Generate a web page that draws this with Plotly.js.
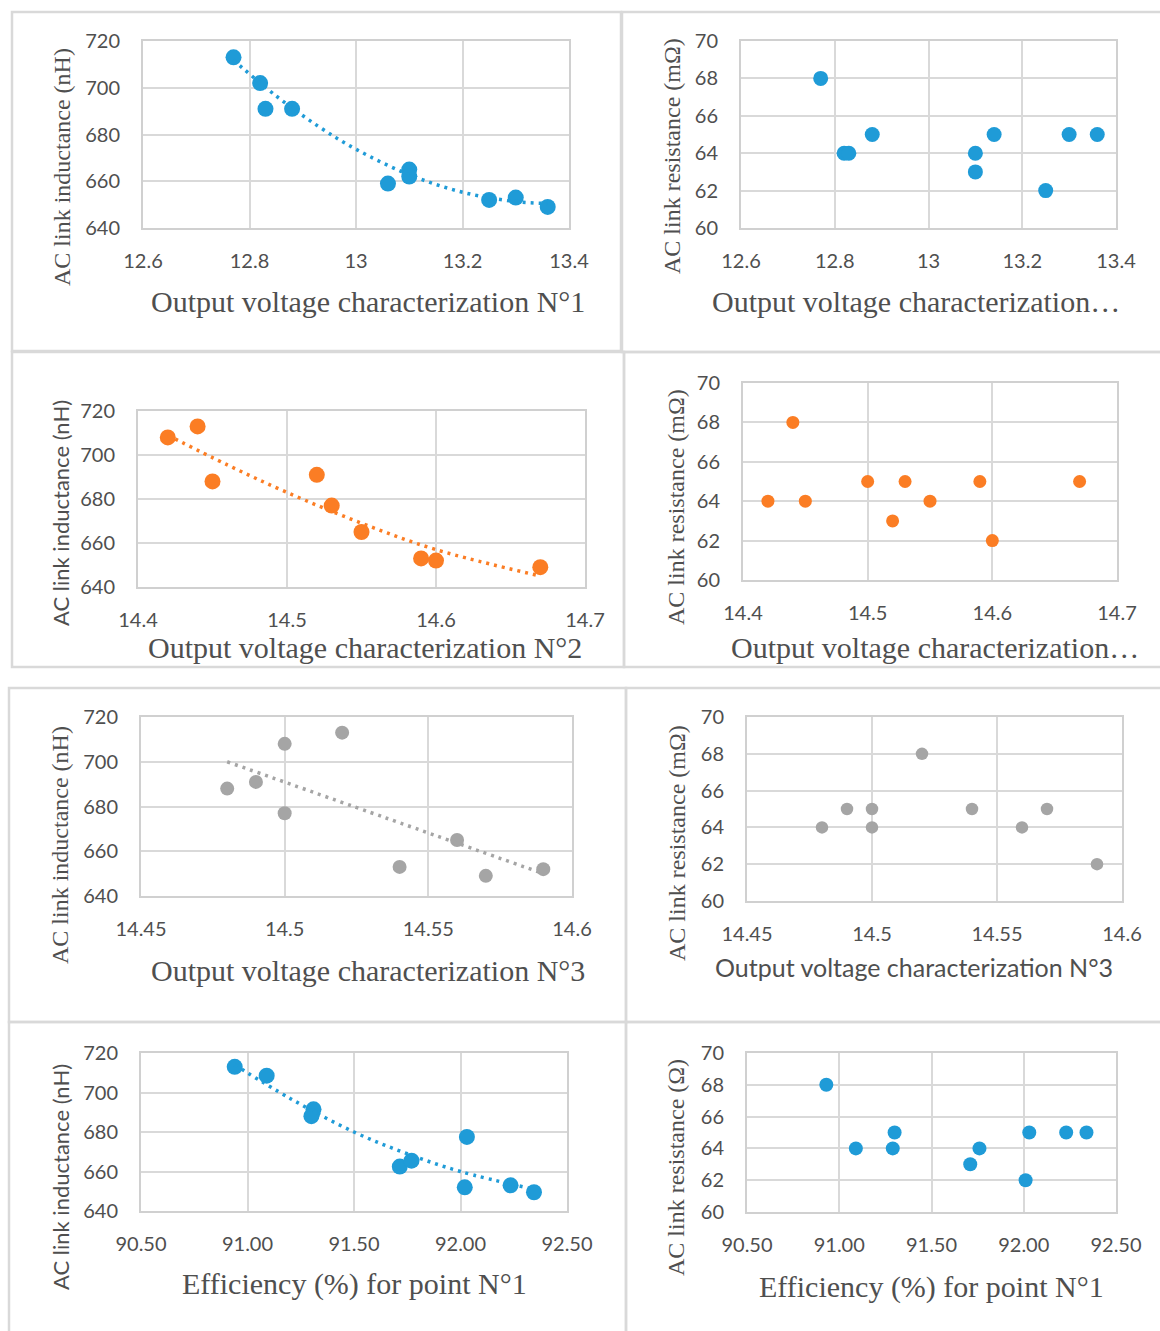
<!DOCTYPE html>
<html><head><meta charset="utf-8">
<script src="https://cdn.plot.ly/plotly-3.0.1.min.js"></script>
<style>html,body{margin:0;padding:0;background:#fff}#chart{width:1160px;height:1331px}</style>
</head><body><div id="chart"></div>
<script>
// ---------- data ----------
const volt1 = [12.77, 12.82, 12.83, 12.88, 13.06, 13.10, 13.10, 13.25, 13.30, 13.36];
const induct1 = [713, 702, 691, 691, 659, 665, 662, 652, 653, 649];
const trend1X = [12.77, 12.85, 12.93, 13.0, 13.1, 13.2, 13.3, 13.36];
const trend1Y = [711.8, 696.5, 683.4, 673.7, 662.8, 655.3, 651.3, 650.5];
const volt1R = [12.77, 12.82, 12.83, 12.88, 13.10, 13.10, 13.14, 13.25, 13.30, 13.36];
const resist1 = [68, 64, 64, 65, 64, 63, 65, 62, 65, 65];

const volt2 = [14.42, 14.44, 14.45, 14.52, 14.53, 14.55, 14.59, 14.60, 14.67];
const induct2 = [708, 713, 688, 691, 677, 665, 653, 652, 649];
const trend2X = [14.42, 14.46, 14.5, 14.55, 14.6, 14.67];
const trend2Y = [709, 695.5, 683, 669, 657, 645];
const volt2R = [14.42, 14.44, 14.45, 14.50, 14.52, 14.53, 14.55, 14.59, 14.60, 14.67];
const resist2 = [64, 68, 64, 65, 63, 65, 64, 65, 62, 65];

const volt3 = [14.48, 14.49, 14.50, 14.50, 14.52, 14.54, 14.56, 14.57, 14.59];
const induct3 = [688, 691, 708, 677, 713, 653, 665, 649, 652];
const trend3X = [14.48, 14.535, 14.59];
const trend3Y = [700, 675, 650];
const volt3R = [14.48, 14.49, 14.50, 14.50, 14.52, 14.54, 14.56, 14.57, 14.59];
const resist3 = [64, 65, 65, 64, 68, 65, 64, 65, 62];

const eff1 = [90.94, 91.09, 91.31, 91.30, 92.03, 91.715, 91.77, 92.02, 92.235, 92.345];
const induct4 = [713, 708.5, 691.5, 688, 677.5, 662.5, 665.5, 652, 653, 649.5];
const trend4X = [90.94, 91.2, 91.5, 91.75, 92.0, 92.345];
const trend4Y = [714, 697, 680, 669, 660, 651];
const eff1R = [90.93, 91.09, 91.29, 91.30, 91.71, 91.76, 92.01, 92.03, 92.23, 92.34];
const resist4 = [68, 64, 64, 65, 63, 64, 62, 65, 65, 65];

const titleL = 'AC link inductance (nH)';
const titleR = 'AC link resistance (mΩ)';
const titleR2 = 'AC link resistance (Ω)';
const titleV1 = 'Output voltage characterization N°1';
const titleV2 = 'Output voltage characterization N°2';
const titleV3 = 'Output voltage characterization N°3';
const titleVcut = 'Output voltage characterization…';
const titleE = 'Efficiency (%) for point N°1';

// ---------- styling ----------
const W = 1160, H = 1331;
const px = x => x / W, py = y => 1 - y / H;
const BLUE = '#1f9bd7', ORANGE = '#fb7d24', GRAY = '#a5a5a5';
const SERIF = '"Liberation Serif", "DejaVu Serif", serif';
const SANS = 'Lato, "Open Sans", sans-serif';
const TXT = '#4f4f4f';

const panels = [
  {x: volt1, y: induct1, tx: trend1X, ty: trend1Y, c: BLUE, ms: 16, xr: [12.6, 13.4], dx: 0.2, yr: [640, 720], dy: 20,
   plot: [143, 569, 41, 228], xt: titleV1, xtp: [368, 301], xf: SERIF, yt: titleL, ytp: [62, 167], yf: SERIF, box: [12, 621, 12, 351]},
  {x: volt1R, y: resist1, c: BLUE, ms: 15, xr: [12.6, 13.4], dx: 0.2, yr: [60, 70], dy: 2,
   plot: [741, 1116, 41, 228], xt: titleVcut, xtp: [916, 301], xf: SERIF, yt: titleR, ytp: [672, 156], yf: SERIF, box: [622, 1162, 12, 352]},
  {x: volt2, y: induct2, tx: trend2X, ty: trend2Y, c: ORANGE, ms: 16, xr: [14.4, 14.7], dx: 0.1, yr: [640, 720], dy: 20,
   plot: [138, 585, 411, 587], xt: titleV2, xtp: [365, 647], xf: SERIF, yt: titleL, ytp: [60, 513], yf: SANS, box: [12, 624, 352, 667]},
  {x: volt2R, y: resist2, c: ORANGE, ms: 13, xr: [14.4, 14.7], dx: 0.1, yr: [60, 70], dy: 2,
   plot: [743, 1117, 383, 580], xt: titleVcut, xtp: [935, 647], xf: SERIF, yt: titleR, ytp: [676, 507], yf: SERIF, box: [624, 1162, 352, 667]},
  {x: volt3, y: induct3, tx: trend3X, ty: trend3Y, c: GRAY, ms: 14, xr: [14.45, 14.6], dx: 0.05, yr: [640, 720], dy: 20,
   plot: [141, 572, 717, 896], xt: titleV3, xtp: [368, 970], xf: SERIF, yt: titleL, ytp: [60, 845], yf: SERIF, box: [9, 626, 688, 1022]},
  {x: volt3R, y: resist3, c: GRAY, ms: 12.5, xr: [14.45, 14.6], dx: 0.05, yr: [60, 70], dy: 2,
   plot: [747, 1122, 717, 901], xt: titleV3, xtp: [914, 967], xf: SANS, yt: titleR, ytp: [677, 843], yf: SERIF, box: [626, 1162, 688, 1022]},
  {x: eff1, y: induct4, tx: trend4X, ty: trend4Y, c: BLUE, ms: 16, xr: [90.5, 92.5], dx: 0.5, fmt: '.2f', yr: [640, 720], dy: 20,
   plot: [141, 567, 1053, 1211], xt: titleE, xtp: [354, 1284], xf: SERIF, yt: titleL, ytp: [60, 1177], yf: SANS, box: [9, 626, 1022, 1340]},
  {x: eff1R, y: resist4, c: BLUE, ms: 14, xr: [90.5, 92.5], dx: 0.5, fmt: '.2f', yr: [60, 70], dy: 2,
   plot: [747, 1116, 1053, 1212], xt: titleE, xtp: [931, 1287], xf: SERIF, yt: titleR2, ytp: [676, 1168], yf: SERIF, box: [626, 1162, 1022, 1340]}
];

const data = [];
const layout = {
  width: W, height: H, margin: {l: 0, r: 0, t: 0, b: 0},
  paper_bgcolor: '#ffffff', plot_bgcolor: '#ffffff', showlegend: false,
  annotations: [], shapes: []
};

panels.forEach((p, i) => {
  const n = i + 1;
  const xa = 'x' + (n === 1 ? '' : n), ya = 'y' + (n === 1 ? '' : n);
  const xk = 'xaxis' + (n === 1 ? '' : n), yk = 'yaxis' + (n === 1 ? '' : n);
  data.push({type: 'scatter', mode: 'markers', x: p.x, y: p.y, xaxis: xa, yaxis: ya,
    marker: {color: p.c, size: p.ms}, cliponaxis: false, hoverinfo: 'x+y'});
  if (p.tx) {
    data.push({type: 'scatter', mode: 'lines', x: p.tx, y: p.ty, xaxis: xa, yaxis: ya,
      line: {color: p.c, width: 3.5, dash: '3px,5px', shape: 'spline'}, hoverinfo: 'skip'});
  }
  const common = {showgrid: true, gridcolor: '#d9d9d9', gridwidth: 2, zeroline: false,
    showline: true, linecolor: '#d0d0d0', linewidth: 2, mirror: true, ticks: '',
    tickfont: {family: SANS, size: 20, color: TXT}};
  layout[xk] = Object.assign({}, common, {domain: [px(p.plot[0]), px(p.plot[1])], range: p.xr, dtick: p.dx,
    tick0: p.xr[0], anchor: ya, ticklabelstandoff: 14, tickformat: p.fmt || ''});
  layout[yk] = Object.assign({}, common, {domain: [py(p.plot[3]), py(p.plot[2])], range: p.yr, dtick: p.dy,
    tick0: p.yr[0], anchor: xa, ticklabelstandoff: 17});
  layout.annotations.push({xref: 'paper', yref: 'paper', x: px(p.xtp[0]), y: py(p.xtp[1]), xanchor: 'center', yanchor: 'middle',
    showarrow: false, text: p.xt, font: {family: p.xf, size: p.xf === SANS ? 25 : 30, color: TXT}});
  layout.annotations.push({xref: 'paper', yref: 'paper', x: px(p.ytp[0]), y: py(p.ytp[1]), xanchor: 'center', yanchor: 'middle',
    showarrow: false, textangle: -90, text: p.yt, font: {family: p.yf, size: p.yf === SANS ? 22 : 24, color: TXT}});
  layout.shapes.push({type: 'rect', xref: 'paper', yref: 'paper', x0: px(p.box[0]), x1: px(p.box[1]),
    y0: py(p.box[3]), y1: py(p.box[2]), line: {color: '#d9d9d9', width: 2.5}, fillcolor: 'rgba(0,0,0,0)', layer: 'below'});
});

Plotly.newPlot('chart', data, layout, {displayModeBar: false, staticPlot: true});
</script>
</body></html>
